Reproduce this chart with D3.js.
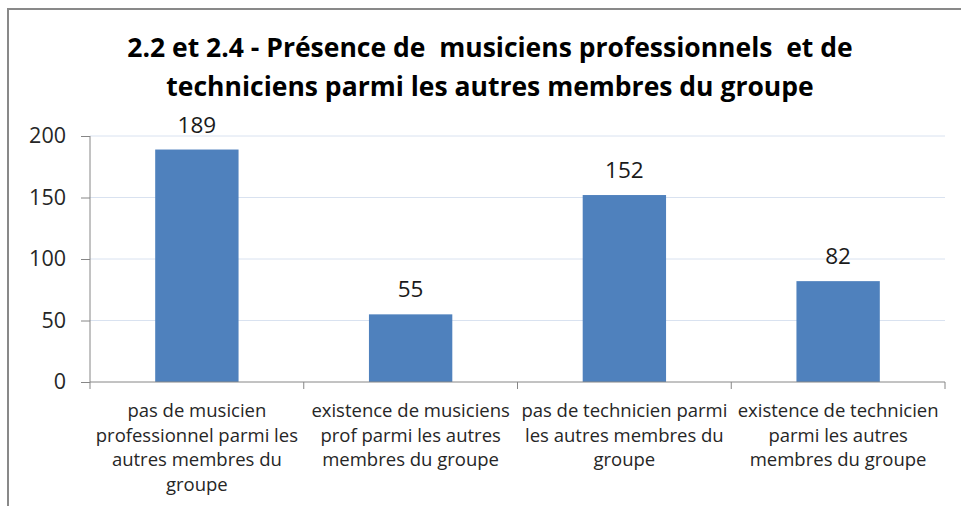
<!DOCTYPE html>
<html>
<head>
<meta charset="utf-8">
<script src="https://cdn.jsdelivr.net/npm/d3@7"></script>
<style>
  body { margin: 0; background: #fff; }
  text { font-family: "Open Sans", sans-serif; }
</style>
</head>
<body>
<svg id="chart" width="961" height="506"></svg>
<script>
// chart data
var categories = [
  "pas de musicien professionnel parmi les autres membres du groupe",
  "existence de musiciens prof parmi les autres membres du groupe",
  "pas de technicien parmi les autres membres du groupe",
  "existence de technicien parmi les autres membres du groupe"
];
var values = [189, 55, 152, 82];
var categoryLines = [
  ["pas de musicien", "professionnel parmi les", "autres membres du", "groupe"],
  ["existence de musiciens", "prof parmi les autres", "membres du groupe"],
  ["pas de technicien parmi", "les autres membres du", "groupe"],
  ["existence de technicien", "parmi les autres", "membres du groupe"]
];
var yTicks = [0, 50, 100, 150, 200];
var titleLines = [
  "2.2 et 2.4 - Présence de  musiciens professionnels  et de",
  "techniciens parmi les autres membres du groupe"
];

var svg = d3.select("#chart");
var margin = { top: 136, left: 90, right: 16, bottom: 124 };
var width = 961 - margin.left - margin.right;
var height = 506 - margin.top - margin.bottom;

// outer frame
svg.append("rect")
  .attr("x", 8).attr("y", 9)
  .attr("width", 1000).attr("height", 600)
  .attr("fill", "none")
  .attr("stroke", "#898989")
  .attr("stroke-width", 2);

// title
svg.append("text")
  .attr("text-anchor", "middle")
  .style("font-size", "26.5px")
  .style("font-weight", "bold")
  .style("white-space", "pre")
  .attr("fill", "#000")
  .selectAll("tspan")
  .data(titleLines)
  .enter().append("tspan")
  .attr("x", 490)
  .attr("y", function(d, i) { return 57 + i * 39; })
  .text(function(d) { return d; });

var g = svg.append("g")
  .attr("transform", "translate(" + margin.left + "," + margin.top + ")");

var x = d3.scaleBand()
  .domain(categories)
  .range([0, width])
  .padding(0);

var y = d3.scaleLinear()
  .domain([0, 200])
  .range([height, 0]);

// gridlines
g.selectAll(".grid")
  .data(yTicks.filter(function(d) { return d > 0; }))
  .enter().append("line")
  .attr("x1", 0).attr("x2", width)
  .attr("y1", function(d) { return y(d); })
  .attr("y2", function(d) { return y(d); })
  .attr("stroke", "#d9e2f0")
  .attr("stroke-width", 1);

// bars
var barW = x.bandwidth() * 0.39;
g.selectAll(".bar")
  .data(values)
  .enter().append("rect")
  .attr("class", "bar")
  .attr("x", function(d, i) { return x(categories[i]) + (x.bandwidth() - barW) / 2; })
  .attr("y", function(d) { return y(d); })
  .attr("width", barW)
  .attr("height", function(d) { return y(0) - y(d); })
  .attr("fill", "#4f81bd");

// value labels
g.selectAll(".val")
  .data(values)
  .enter().append("text")
  .attr("x", function(d, i) { return x(categories[i]) + x.bandwidth() / 2; })
  .attr("y", function(d) { return y(d) - 17; })
  .attr("text-anchor", "middle")
  .style("font-size", "22.5px")
  .attr("fill", "#1a1a1a")
  .text(function(d) { return d; });

// y axis
var yAxis = g.append("g")
  .call(d3.axisLeft(y).tickValues(yTicks).tickSize(9).tickPadding(15));
yAxis.select(".domain").attr("stroke", "#868686").attr("d", "M0,0V" + height);
yAxis.selectAll(".tick line").attr("stroke", "#868686");
yAxis.selectAll(".tick text")
  .style("font-size", "21.5px")
  .style("font-family", "'Open Sans', sans-serif")
  .attr("fill", "#262626");

// x axis
var xAxis = g.append("g")
  .attr("transform", "translate(0," + height + ")")
  .call(d3.axisBottom(x).tickSize(0).tickFormat(""));
xAxis.select(".domain").attr("stroke", "#868686").attr("d", "M0,0H" + width);

// category boundary ticks
g.selectAll(".sep")
  .data(d3.range(categories.length + 1))
  .enter().append("line")
  .attr("x1", function(i) { return i * x.step(); })
  .attr("x2", function(i) { return i * x.step(); })
  .attr("y1", height).attr("y2", height + 7)
  .attr("stroke", "#868686");

// category labels
g.selectAll(".cat")
  .data(categoryLines)
  .enter().append("text")
  .attr("class", "cat")
  .attr("text-anchor", "middle")
  .style("font-size", "18.5px")
  .attr("fill", "#262626")
  .each(function(lines, i) {
    var cx = x(categories[i]) + x.bandwidth() / 2;
    d3.select(this).selectAll("tspan")
      .data(lines)
      .enter().append("tspan")
      .attr("x", cx)
      .attr("y", function(d, j) { return height + 35 + j * 24.5; })
      .text(function(d) { return d; });
  });
</script>
</body>
</html>
